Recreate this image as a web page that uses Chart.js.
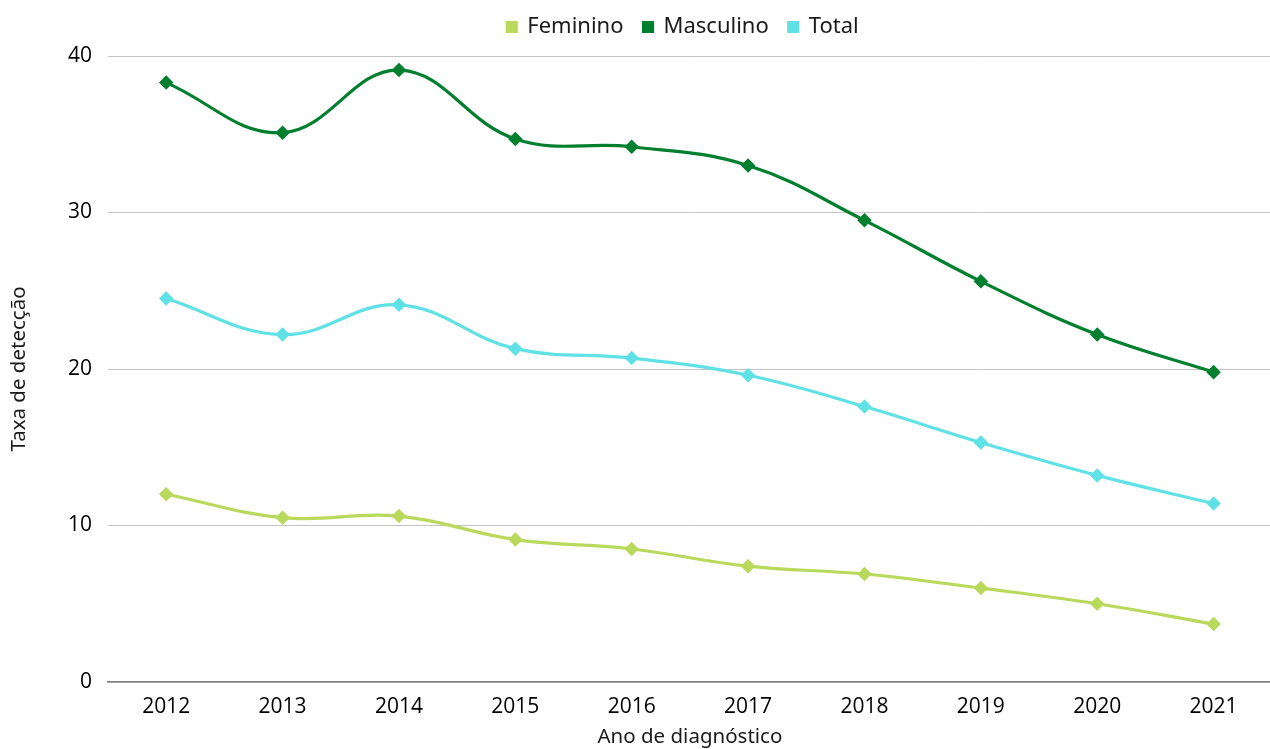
<!DOCTYPE html>
<html lang="pt">
<head>
<meta charset="UTF-8">
<title>Taxa de detecção</title>
<script src="https://cdn.jsdelivr.net/npm/chart.js"></script>
<style>
html, body { margin: 0; padding: 0; background: #fff; overflow: hidden; }
#grafico { display: block; }
</style>
</head>
<body>
<canvas id="grafico" width="1280" height="749"></canvas>
<script>
const anos = ['2012', '2013', '2014', '2015', '2016', '2017', '2018', '2019', '2020', '2021'];
const feminino = [12.0, 10.5, 10.6, 9.1, 8.5, 7.4, 6.9, 6.0, 5.0, 3.7];
const masculino = [38.3, 35.1, 39.1, 34.7, 34.2, 33.0, 29.5, 25.6, 22.2, 19.8];
const total = [24.5, 22.2, 24.1, 21.3, 20.7, 19.6, 17.6, 15.3, 13.2, 11.4];

const fonteTicks = "'Open Sans', sans-serif";
const fonteTitulos = "'Noto Sans', sans-serif";

function serie(label, data, cor) {
    return {
        label: label,
        data: data,
        borderColor: cor,
        backgroundColor: cor,
        borderWidth: 3.2,
        pointStyle: 'rectRot',
        pointRadius: 5,
        pointHoverRadius: 5,
        tension: 0.4,
        fill: false
    };
}

// ajusta a posicao da legenda sem mexer na area do grafico
const moverLegenda = {
    id: 'moverLegenda',
    afterLayout(chart) {
        const lg = chart.legend;
        if (lg) {
            lg.top -= 8;
            lg.bottom -= 8;
            lg.left += 43;
            lg.right += 43;
        }
    }
};

const ctx = document.getElementById('grafico').getContext('2d');
new Chart(ctx, {
    type: 'line',
    data: {
        labels: anos,
        datasets: [
            serie('Feminino', feminino, '#b8d95b'),
            serie('Masculino', masculino, '#00802f'),
            serie('Total', total, '#5fe1e6')
        ]
    },
    options: {
        responsive: false,
        animation: false,
        layout: { padding: { top: 4, right: 0, left: 0, bottom: 0 } },
        plugins: {
            legend: {
                position: 'top',
                labels: {
                    usePointStyle: true,
                    pointStyle: 'rect',
                    boxWidth: 9,
                    boxHeight: 9,
                    padding: 20,
                    color: '#1a1a1a',
                    font: { family: fonteTitulos, size: 22 }
                }
            },
            tooltip: { enabled: false }
        },
        scales: {
            x: {
                offset: true,
                grid: { display: false, drawTicks: false },
                border: { display: true, color: '#808080', width: 1.5 },
                ticks: {
                    color: '#000',
                    padding: 12,
                    maxRotation: 0,
                    font: { family: fonteTicks, size: 21 }
                },
                title: {
                    display: true,
                    text: 'Ano de diagnóstico',
                    color: '#1a1a1a',
                    padding: { top: 1, bottom: 0 },
                    font: { family: fonteTitulos, size: 20.5 }
                },
                afterFit: s => { s.height = 67; }
            },
            y: {
                min: 0,
                max: 40,
                ticks: {
                    stepSize: 10,
                    color: '#000',
                    padding: 16,
                    font: { family: fonteTicks, size: 21 }
                },
                grid: { color: '#c4c4c4', lineWidth: 1, drawTicks: false },
                border: { display: false },
                title: {
                    display: true,
                    text: 'Taxa de detecção',
                    color: '#1a1a1a',
                    padding: { top: 7, bottom: 0 },
                    font: { family: fonteTitulos, size: 20.5 }
                },
                afterFit: s => { s.width = 108; }
            }
        }
    },
    plugins: [moverLegenda]
});
</script>
</body>
</html>
